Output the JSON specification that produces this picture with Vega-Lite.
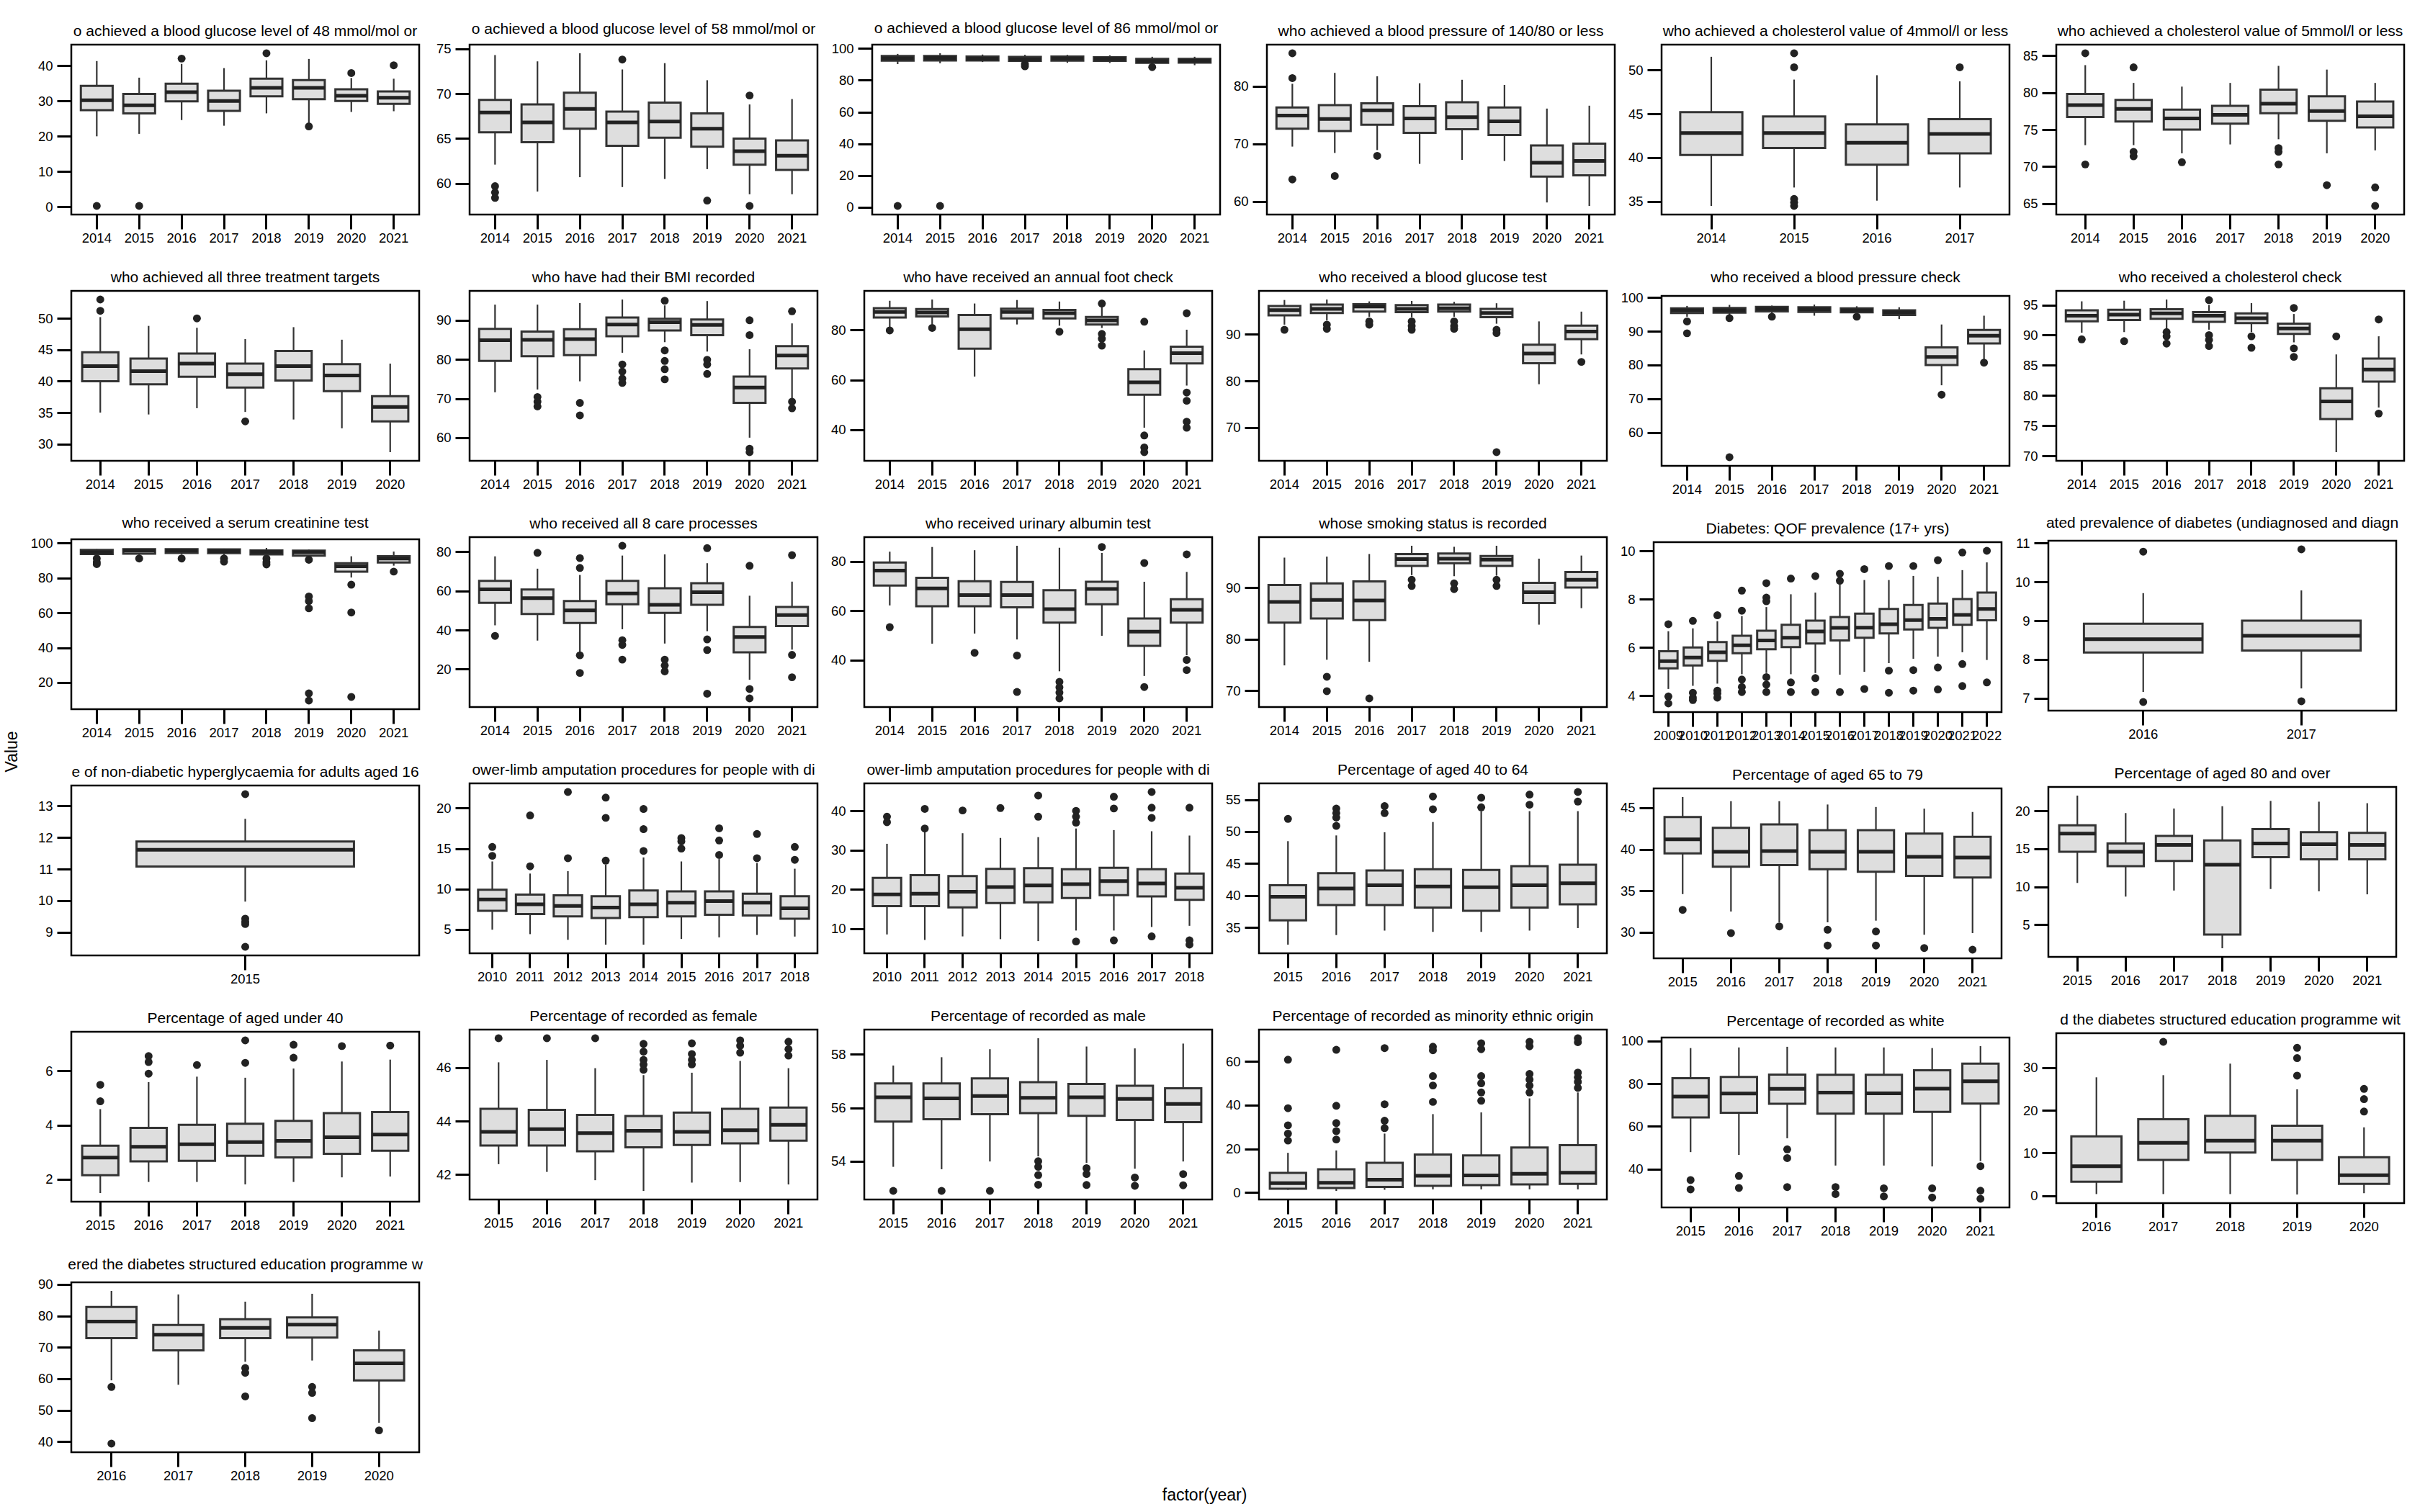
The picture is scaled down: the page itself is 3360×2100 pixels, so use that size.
{
"$schema": "https://vega.github.io/schema/vega-lite/v6.json",
"background": "white",
"padding": {"left": 5, "top": 28, "right": 5, "bottom": 5},
"title": {"text": "factor(year)", "orient": "bottom", "anchor": "middle", "fontSize": 23, "font": "Liberation Sans", "fontWeight": "normal", "color": "#000", "offset": 6},
"vconcat": [{
"title": {"text": "Value", "orient": "left", "anchor": "middle", "fontSize": 23, "font": "Liberation Sans", "fontWeight": "normal", "color": "#000", "offset": 12},
"data": {"values": [
{"i":1,"yr":"2014","lo":20,"q1":27.4,"md":30.2,"q3":34.3,"hi":41.3},{"i":1,"yr":"2014","o":0.3},
{"i":1,"yr":"2015","lo":20.7,"q1":26.5,"md":28.8,"q3":32,"hi":36.6},{"i":1,"yr":"2015","o":0.3},
{"i":1,"yr":"2016","lo":24.6,"q1":29.9,"md":32.5,"q3":34.9,"hi":40.5},{"i":1,"yr":"2016","o":42},
{"i":1,"yr":"2017","lo":23,"q1":27.2,"md":30,"q3":32.9,"hi":39.3},
{"i":1,"yr":"2018","lo":26.5,"q1":31.3,"md":33.7,"q3":36.3,"hi":41.5},{"i":1,"yr":"2018","o":43.5},
{"i":1,"yr":"2019","lo":23.8,"q1":30.5,"md":33.7,"q3":35.9,"hi":41.9},{"i":1,"yr":"2019","o":22.8},
{"i":1,"yr":"2020","lo":26.9,"q1":30,"md":31.5,"q3":33.3,"hi":36.5},{"i":1,"yr":"2020","o":37.9},
{"i":1,"yr":"2021","lo":27.1,"q1":29.2,"md":30.9,"q3":32.7,"hi":36.3},{"i":1,"yr":"2021","o":40.1},
{"i":2,"yr":"2014","lo":62.1,"q1":65.7,"md":67.9,"q3":69.3,"hi":74.3},{"i":2,"yr":"2014","o":59.7},{"i":2,"yr":"2014","o":59.0},{"i":2,"yr":"2014","o":58.4},
{"i":2,"yr":"2015","lo":59.1,"q1":64.6,"md":66.8,"q3":68.8,"hi":73.6},
{"i":2,"yr":"2016","lo":60.7,"q1":66.1,"md":68.3,"q3":70.1,"hi":74.5},
{"i":2,"yr":"2017","lo":59.6,"q1":64.2,"md":66.8,"q3":68.0,"hi":72.7},{"i":2,"yr":"2017","o":73.8},
{"i":2,"yr":"2018","lo":60.5,"q1":65.1,"md":66.9,"q3":69.0,"hi":73.4},
{"i":2,"yr":"2019","lo":61.6,"q1":64.1,"md":66.1,"q3":67.8,"hi":71.5},{"i":2,"yr":"2019","o":58.1},
{"i":2,"yr":"2020","lo":58.8,"q1":62.1,"md":63.6,"q3":65.0,"hi":68.8},{"i":2,"yr":"2020","o":69.8},{"i":2,"yr":"2020","o":57.5},
{"i":2,"yr":"2021","lo":58.8,"q1":61.5,"md":63.1,"q3":64.8,"hi":69.4},
{"i":3,"yr":"2014","lo":90.2,"q1":92.3,"md":93.8,"q3":95.3,"hi":96.6},{"i":3,"yr":"2014","o":0.8},
{"i":3,"yr":"2015","lo":90.7,"q1":92.5,"md":94,"q3":95.3,"hi":97},{"i":3,"yr":"2015","o":0.8},
{"i":3,"yr":"2016","lo":91.5,"q1":92.5,"md":93.7,"q3":95,"hi":96.2},
{"i":3,"yr":"2017","lo":91,"q1":92.2,"md":93.2,"q3":94.7,"hi":96},{"i":3,"yr":"2017","o":90.2},{"i":3,"yr":"2017","o":88.8},
{"i":3,"yr":"2018","lo":91,"q1":92.3,"md":93.8,"q3":95,"hi":96},
{"i":3,"yr":"2019","lo":90.9,"q1":92.2,"md":93.5,"q3":94.5,"hi":95.7},
{"i":3,"yr":"2020","lo":89.8,"q1":91,"md":92,"q3":93.5,"hi":94.8},{"i":3,"yr":"2020","o":88.3},
{"i":3,"yr":"2021","lo":89.5,"q1":91.1,"md":92.3,"q3":93.5,"hi":94.8},
{"i":4,"yr":"2014","lo":69.5,"q1":72.6,"md":74.9,"q3":76.3,"hi":80.4},{"i":4,"yr":"2014","o":85.7},{"i":4,"yr":"2014","o":81.4},{"i":4,"yr":"2014","o":63.8},
{"i":4,"yr":"2015","lo":68.4,"q1":72.2,"md":74.3,"q3":76.7,"hi":82.3},{"i":4,"yr":"2015","o":64.4},
{"i":4,"yr":"2016","lo":68.9,"q1":73.3,"md":75.8,"q3":77,"hi":81.7},{"i":4,"yr":"2016","o":67.9},
{"i":4,"yr":"2017","lo":66.5,"q1":71.9,"md":74.4,"q3":76.5,"hi":80.5},
{"i":4,"yr":"2018","lo":67.2,"q1":72.5,"md":74.6,"q3":77.2,"hi":81.1},
{"i":4,"yr":"2019","lo":67,"q1":71.5,"md":73.9,"q3":76.3,"hi":80.2},
{"i":4,"yr":"2020","lo":59.8,"q1":64.3,"md":66.7,"q3":69.7,"hi":76.1},
{"i":4,"yr":"2021","lo":59.2,"q1":64.5,"md":67,"q3":70,"hi":76.6},
{"i":5,"yr":"2014","lo":34.5,"q1":40.3,"md":42.8,"q3":45.2,"hi":51.5},
{"i":5,"yr":"2015","lo":36.6,"q1":41.1,"md":42.8,"q3":44.7,"hi":48.9},{"i":5,"yr":"2015","o":51.9},{"i":5,"yr":"2015","o":50.3},{"i":5,"yr":"2015","o":35.3},{"i":5,"yr":"2015","o":34.9},{"i":5,"yr":"2015","o":34.5},
{"i":5,"yr":"2016","lo":35.1,"q1":39.2,"md":41.7,"q3":43.8,"hi":49.4},
{"i":5,"yr":"2017","lo":36.6,"q1":40.5,"md":42.7,"q3":44.4,"hi":48.7},{"i":5,"yr":"2017","o":50.3},
{"i":6,"yr":"2014","lo":72.9,"q1":76.7,"md":78.3,"q3":79.8,"hi":83.7},{"i":6,"yr":"2014","o":85.3},{"i":6,"yr":"2014","o":70.3},
{"i":6,"yr":"2015","lo":72.9,"q1":76.1,"md":77.8,"q3":79,"hi":81.3},{"i":6,"yr":"2015","o":83.4},{"i":6,"yr":"2015","o":72},{"i":6,"yr":"2015","o":71.4},
{"i":6,"yr":"2016","lo":71.8,"q1":75,"md":76.5,"q3":77.7,"hi":80.8},{"i":6,"yr":"2016","o":70.6},
{"i":6,"yr":"2017","lo":73,"q1":75.8,"md":77,"q3":78.2,"hi":81.3},
{"i":6,"yr":"2018","lo":73.7,"q1":77.2,"md":78.5,"q3":80.4,"hi":83.6},{"i":6,"yr":"2018","o":72.5},{"i":6,"yr":"2018","o":72},{"i":6,"yr":"2018","o":70.3},
{"i":6,"yr":"2019","lo":71.8,"q1":76.2,"md":77.5,"q3":79.5,"hi":83.1},{"i":6,"yr":"2019","o":67.5},
{"i":6,"yr":"2020","lo":72.2,"q1":75.3,"md":76.8,"q3":78.8,"hi":81.3},{"i":6,"yr":"2020","o":67.2},{"i":6,"yr":"2020","o":64.7},
{"i":7,"yr":"2014","lo":35,"q1":40,"md":42.4,"q3":44.6,"hi":50.2},{"i":7,"yr":"2014","o":53},{"i":7,"yr":"2014","o":51.2},
{"i":7,"yr":"2015","lo":34.7,"q1":39.5,"md":41.6,"q3":43.6,"hi":48.8},
{"i":7,"yr":"2016","lo":35.7,"q1":40.7,"md":42.8,"q3":44.4,"hi":48.5},{"i":7,"yr":"2016","o":50},
{"i":7,"yr":"2017","lo":35.1,"q1":39,"md":41.1,"q3":42.8,"hi":46.7},{"i":7,"yr":"2017","o":33.6},
{"i":7,"yr":"2018","lo":33.9,"q1":40.1,"md":42.4,"q3":44.8,"hi":48.6},
{"i":7,"yr":"2019","lo":32.5,"q1":38.4,"md":40.9,"q3":42.7,"hi":46.6},
{"i":7,"yr":"2020","lo":28.7,"q1":33.6,"md":35.9,"q3":37.6,"hi":42.8},
{"i":8,"yr":"2014","lo":71.6,"q1":79.6,"md":84.9,"q3":87.8,"hi":94},
{"i":8,"yr":"2015","lo":72.3,"q1":80.8,"md":85,"q3":87.1,"hi":94},{"i":8,"yr":"2015","o":70.4},{"i":8,"yr":"2015","o":69.2},{"i":8,"yr":"2015","o":68},
{"i":8,"yr":"2016","lo":74.4,"q1":81.1,"md":85.2,"q3":87.7,"hi":94.4},{"i":8,"yr":"2016","o":68.9},{"i":8,"yr":"2016","o":65.7},
{"i":8,"yr":"2017","lo":81.7,"q1":85.9,"md":88.9,"q3":90.7,"hi":95.3},{"i":8,"yr":"2017","o":78.7},{"i":8,"yr":"2017","o":76.9},{"i":8,"yr":"2017","o":75.1},{"i":8,"yr":"2017","o":74},
{"i":8,"yr":"2018","lo":84.4,"q1":87.4,"md":89.5,"q3":90.4,"hi":93.8},{"i":8,"yr":"2018","o":95},{"i":8,"yr":"2018","o":82.3},{"i":8,"yr":"2018","o":79.6},{"i":8,"yr":"2018","o":77.5},{"i":8,"yr":"2018","o":74.9},
{"i":8,"yr":"2019","lo":82,"q1":86.2,"md":88.8,"q3":90.2,"hi":94.9},{"i":8,"yr":"2019","o":79.9},{"i":8,"yr":"2019","o":78.7},{"i":8,"yr":"2019","o":76.3},
{"i":8,"yr":"2020","lo":60,"q1":68.9,"md":72.8,"q3":75.6,"hi":82.6},{"i":8,"yr":"2020","o":90},{"i":8,"yr":"2020","o":86.2},{"i":8,"yr":"2020","o":57.2},{"i":8,"yr":"2020","o":56.3},
{"i":8,"yr":"2021","lo":69.8,"q1":77.7,"md":81,"q3":83.4,"hi":89.2},{"i":8,"yr":"2021","o":92.3},{"i":8,"yr":"2021","o":69.2},{"i":8,"yr":"2021","o":67.5},
{"i":9,"yr":"2014","lo":80.8,"q1":85,"md":87.2,"q3":88.7,"hi":91.7},{"i":9,"yr":"2014","o":79.8},
{"i":9,"yr":"2015","lo":82.2,"q1":85.4,"md":87,"q3":88.4,"hi":92.2},{"i":9,"yr":"2015","o":80.8},
{"i":9,"yr":"2016","lo":61.3,"q1":72.5,"md":80.3,"q3":86,"hi":90.6},
{"i":9,"yr":"2017","lo":82.2,"q1":84.6,"md":87.2,"q3":88.5,"hi":92},
{"i":9,"yr":"2018","lo":81.7,"q1":84.6,"md":86.7,"q3":88,"hi":91.4},{"i":9,"yr":"2018","o":79.3},
{"i":9,"yr":"2019","lo":80.8,"q1":82.2,"md":83.8,"q3":85.2,"hi":89.7},{"i":9,"yr":"2019","o":90.6},{"i":9,"yr":"2019","o":78.4},{"i":9,"yr":"2019","o":76.5},{"i":9,"yr":"2019","o":73.7},
{"i":9,"yr":"2020","lo":40.8,"q1":54,"md":59,"q3":64.3,"hi":71.8},{"i":9,"yr":"2020","o":83.3},{"i":9,"yr":"2020","o":37.7},{"i":9,"yr":"2020","o":32.9},{"i":9,"yr":"2020","o":31},
{"i":9,"yr":"2021","lo":57.7,"q1":66.6,"md":70.7,"q3":73.3,"hi":80.1},{"i":9,"yr":"2021","o":86.7},{"i":9,"yr":"2021","o":54.9},{"i":9,"yr":"2021","o":51.6},{"i":9,"yr":"2021","o":43.2},{"i":9,"yr":"2021","o":40.8},
{"i":10,"yr":"2014","lo":92.1,"q1":94.1,"md":95.2,"q3":96.1,"hi":97.4},{"i":10,"yr":"2014","o":91},
{"i":10,"yr":"2015","lo":93,"q1":94.6,"md":95.5,"q3":96.4,"hi":97.5},{"i":10,"yr":"2015","o":92.1},{"i":10,"yr":"2015","o":91.2},
{"i":10,"yr":"2016","lo":93.8,"q1":94.9,"md":96,"q3":96.5,"hi":97.1},{"i":10,"yr":"2016","o":92.8},{"i":10,"yr":"2016","o":92.1},
{"i":10,"yr":"2017","lo":93.7,"q1":94.8,"md":95.5,"q3":96.3,"hi":97.2},{"i":10,"yr":"2017","o":92.8},{"i":10,"yr":"2017","o":91.8},{"i":10,"yr":"2017","o":91},
{"i":10,"yr":"2018","lo":93.8,"q1":94.9,"md":95.6,"q3":96.4,"hi":97},{"i":10,"yr":"2018","o":92.8},{"i":10,"yr":"2018","o":91.8},{"i":10,"yr":"2018","o":91.2},
{"i":10,"yr":"2019","lo":92.3,"q1":93.7,"md":94.6,"q3":95.5,"hi":96.7},{"i":10,"yr":"2019","o":91},{"i":10,"yr":"2019","o":90.3},{"i":10,"yr":"2019","o":64.7},
{"i":10,"yr":"2020","lo":79.3,"q1":83.8,"md":85.9,"q3":87.8,"hi":92.8},
{"i":10,"yr":"2021","lo":85.7,"q1":89,"md":90.6,"q3":91.9,"hi":94.9},{"i":10,"yr":"2021","o":84.1},
{"i":11,"yr":"2014","lo":94.3,"q1":95.4,"md":96.2,"q3":96.8,"hi":97.5},{"i":11,"yr":"2014","o":92.9},{"i":11,"yr":"2014","o":89.4},
{"i":11,"yr":"2015","lo":94.6,"q1":95.5,"md":96.2,"q3":96.9,"hi":97.8},{"i":11,"yr":"2015","o":93.9},{"i":11,"yr":"2015","o":52.7},
{"i":11,"yr":"2016","lo":95.2,"q1":95.9,"md":96.6,"q3":97.2,"hi":97.6},{"i":11,"yr":"2016","o":94.3},
{"i":11,"yr":"2017","lo":94.6,"q1":95.7,"md":96.5,"q3":97.1,"hi":97.9},
{"i":11,"yr":"2018","lo":95,"q1":95.6,"md":96.2,"q3":96.8,"hi":97.4},{"i":11,"yr":"2018","o":94.3},
{"i":11,"yr":"2019","lo":93.6,"q1":94.8,"md":95.6,"q3":96.2,"hi":97.1},
{"i":11,"yr":"2020","lo":74,"q1":80,"md":82.4,"q3":85.2,"hi":92},{"i":11,"yr":"2020","o":71.2},
{"i":11,"yr":"2021","lo":81.7,"q1":86.4,"md":88.7,"q3":90.4,"hi":94.6},{"i":11,"yr":"2021","o":80.7},
{"i":12,"yr":"2014","lo":90.4,"q1":92.3,"md":93.2,"q3":94.1,"hi":95.6},{"i":12,"yr":"2014","o":89.3},
{"i":12,"yr":"2015","lo":90.5,"q1":92.5,"md":93.4,"q3":94.2,"hi":95.7},{"i":12,"yr":"2015","o":89},
{"i":12,"yr":"2016","lo":91.1,"q1":92.7,"md":93.6,"q3":94.3,"hi":95.9},{"i":12,"yr":"2016","o":90.5},{"i":12,"yr":"2016","o":89.8},{"i":12,"yr":"2016","o":88.6},
{"i":12,"yr":"2017","lo":90.9,"q1":92.2,"md":93.2,"q3":93.8,"hi":95},{"i":12,"yr":"2017","o":95.8},{"i":12,"yr":"2017","o":90},{"i":12,"yr":"2017","o":89.2},{"i":12,"yr":"2017","o":88.2},
{"i":12,"yr":"2018","lo":90.5,"q1":92,"md":92.8,"q3":93.6,"hi":95.3},{"i":12,"yr":"2018","o":89.8},{"i":12,"yr":"2018","o":87.9},
{"i":12,"yr":"2019","lo":88.8,"q1":90.2,"md":91.1,"q3":91.9,"hi":93.5},{"i":12,"yr":"2019","o":94.5},{"i":12,"yr":"2019","o":87.8},{"i":12,"yr":"2019","o":86.4},
{"i":12,"yr":"2020","lo":70.6,"q1":76.1,"md":79,"q3":81.2,"hi":86.8},{"i":12,"yr":"2020","o":89.8},
{"i":12,"yr":"2021","lo":78,"q1":82.3,"md":84.3,"q3":86.1,"hi":89.8},{"i":12,"yr":"2021","o":92.6},{"i":12,"yr":"2021","o":77},
{"i":13,"yr":"2014","lo":92.9,"q1":93.8,"md":94.8,"q3":96.2,"hi":96.6},{"i":13,"yr":"2014","o":91.2},{"i":13,"yr":"2014","o":89.1},{"i":13,"yr":"2014","o":88},
{"i":13,"yr":"2015","lo":93.2,"q1":94,"md":95.7,"q3":96.6,"hi":96.9},{"i":13,"yr":"2015","o":91.2},
{"i":13,"yr":"2016","lo":93.5,"q1":94.4,"md":95.7,"q3":96.6,"hi":96.9},{"i":13,"yr":"2016","o":91.2},
{"i":13,"yr":"2017","lo":93.2,"q1":94.3,"md":95.4,"q3":96.5,"hi":96.9},{"i":13,"yr":"2017","o":91.2},{"i":13,"yr":"2017","o":89.4},
{"i":13,"yr":"2018","lo":92.5,"q1":93.6,"md":95,"q3":95.9,"hi":97.3},{"i":13,"yr":"2018","o":91.2},{"i":13,"yr":"2018","o":89.1},{"i":13,"yr":"2018","o":87.8},
{"i":13,"yr":"2019","lo":91.8,"q1":92.9,"md":94.8,"q3":95.7,"hi":96.3},{"i":13,"yr":"2019","o":90.5},{"i":13,"yr":"2019","o":69.4},{"i":13,"yr":"2019","o":66.7},{"i":13,"yr":"2019","o":62.6},{"i":13,"yr":"2019","o":13.7},{"i":13,"yr":"2019","o":9.6},
{"i":13,"yr":"2020","lo":80.3,"q1":83.7,"md":86.7,"q3":88.5,"hi":92.5},{"i":13,"yr":"2020","o":76.2},{"i":13,"yr":"2020","o":60.2},{"i":13,"yr":"2020","o":11.7},
{"i":13,"yr":"2021","lo":87.1,"q1":88.9,"md":91.2,"q3":92.5,"hi":95.2},{"i":13,"yr":"2021","o":83.7},
{"i":14,"yr":"2014","lo":42.4,"q1":53.9,"md":60.8,"q3":65.1,"hi":77.6},{"i":14,"yr":"2014","o":37},
{"i":14,"yr":"2015","lo":34.6,"q1":48.2,"md":56.3,"q3":60.7,"hi":71.3},{"i":14,"yr":"2015","o":79.4},
{"i":14,"yr":"2016","lo":28.3,"q1":43.6,"md":50,"q3":54.8,"hi":68.1},{"i":14,"yr":"2016","o":76.7},{"i":14,"yr":"2016","o":71.7},{"i":14,"yr":"2016","o":27.1},{"i":14,"yr":"2016","o":18.1},
{"i":14,"yr":"2017","lo":40.4,"q1":53.1,"md":58.7,"q3":65.1,"hi":78},{"i":14,"yr":"2017","o":83},{"i":14,"yr":"2017","o":34.8},{"i":14,"yr":"2017","o":32.4},{"i":14,"yr":"2017","o":24.9},
{"i":14,"yr":"2018","lo":33.1,"q1":48.7,"md":52.9,"q3":61.3,"hi":78.6},{"i":14,"yr":"2018","o":24.9},{"i":14,"yr":"2018","o":21.9},{"i":14,"yr":"2018","o":18.9},
{"i":14,"yr":"2019","lo":39.4,"q1":52.9,"md":59.3,"q3":63.9,"hi":74.1},{"i":14,"yr":"2019","o":81.8},{"i":14,"yr":"2019","o":35.2},{"i":14,"yr":"2019","o":29.8},{"i":14,"yr":"2019","o":7.5},
{"i":14,"yr":"2020","lo":14.6,"q1":28.6,"md":36.4,"q3":41.6,"hi":57.5},{"i":14,"yr":"2020","o":72.8},{"i":14,"yr":"2020","o":9.9},{"i":14,"yr":"2020","o":5.1},
{"i":14,"yr":"2021","lo":30,"q1":42,"md":47.6,"q3":51.8,"hi":64.7},{"i":14,"yr":"2021","o":78.2},{"i":14,"yr":"2021","o":27.3},{"i":14,"yr":"2021","o":15.9},
{"i":15,"yr":"2014","lo":62.1,"q1":70.2,"md":76.2,"q3":79.5,"hi":83.9},{"i":15,"yr":"2014","o":53.3},
{"i":15,"yr":"2015","lo":46.6,"q1":61.8,"md":69,"q3":73.3,"hi":85.8},
{"i":15,"yr":"2016","lo":50.7,"q1":61.8,"md":66.3,"q3":71.9,"hi":84.5},{"i":15,"yr":"2016","o":42.9},
{"i":15,"yr":"2017","lo":48.3,"q1":61.3,"md":66.3,"q3":71.6,"hi":86.3},{"i":15,"yr":"2017","o":41.8},{"i":15,"yr":"2017","o":27},
{"i":15,"yr":"2018","lo":35.4,"q1":55.1,"md":60.6,"q3":68.3,"hi":85.5},{"i":15,"yr":"2018","o":31.1},{"i":15,"yr":"2018","o":28.9},{"i":15,"yr":"2018","o":26.8},{"i":15,"yr":"2018","o":24.4},
{"i":15,"yr":"2019","lo":49.8,"q1":62.6,"md":68.8,"q3":71.7,"hi":83.4},{"i":15,"yr":"2019","o":85.8},
{"i":15,"yr":"2020","lo":33.5,"q1":45.7,"md":51.5,"q3":56.8,"hi":71.7},{"i":15,"yr":"2020","o":79.3},{"i":15,"yr":"2020","o":29},
{"i":15,"yr":"2021","lo":41.9,"q1":55.1,"md":60.3,"q3":64.6,"hi":75.7},{"i":15,"yr":"2021","o":82.8},{"i":15,"yr":"2021","o":40},{"i":15,"yr":"2021","o":35.9},
{"i":16,"yr":"2014","lo":74.9,"q1":83.2,"md":87.2,"q3":90.5,"hi":95.8},
{"i":16,"yr":"2015","lo":76,"q1":84,"md":87.6,"q3":90.8,"hi":96},{"i":16,"yr":"2015","o":72.7},{"i":16,"yr":"2015","o":69.9},
{"i":16,"yr":"2016","lo":75.6,"q1":83.7,"md":87.5,"q3":91.2,"hi":96.5},{"i":16,"yr":"2016","o":68.5},
{"i":16,"yr":"2017","lo":92.4,"q1":94.2,"md":95.5,"q3":96.5,"hi":98.1},{"i":16,"yr":"2017","o":91.5},{"i":16,"yr":"2017","o":90.3},
{"i":16,"yr":"2018","lo":92.2,"q1":94.7,"md":95.6,"q3":96.6,"hi":97.9},{"i":16,"yr":"2018","o":90.8},{"i":16,"yr":"2018","o":89.7},
{"i":16,"yr":"2019","lo":92.3,"q1":94.2,"md":95.4,"q3":96.1,"hi":98.1},{"i":16,"yr":"2019","o":91.5},{"i":16,"yr":"2019","o":90.3},
{"i":16,"yr":"2020","lo":82.8,"q1":87,"md":89.1,"q3":90.9,"hi":95.6},
{"i":16,"yr":"2021","lo":86,"q1":90,"md":91.5,"q3":93,"hi":96.2},
{"i":17,"yr":"2009","lo":4.28,"q1":5.13,"md":5.43,"q3":5.84,"hi":6.67},{"i":17,"yr":"2009","o":6.96},{"i":17,"yr":"2009","o":3.97},{"i":17,"yr":"2009","o":3.68},
{"i":17,"yr":"2010","lo":4.41,"q1":5.25,"md":5.58,"q3":6.0,"hi":6.79},{"i":17,"yr":"2010","o":7.1},{"i":17,"yr":"2010","o":4.12},{"i":17,"yr":"2010","o":3.92},{"i":17,"yr":"2010","o":3.82},
{"i":17,"yr":"2011","lo":4.5,"q1":5.45,"md":5.8,"q3":6.22,"hi":7.08},{"i":17,"yr":"2011","o":7.33},{"i":17,"yr":"2011","o":4.21},{"i":17,"yr":"2011","o":4.09},{"i":17,"yr":"2011","o":3.92},
{"i":17,"yr":"2012","lo":4.89,"q1":5.76,"md":6.09,"q3":6.48,"hi":7.3},{"i":17,"yr":"2012","o":8.35},{"i":17,"yr":"2012","o":7.52},{"i":17,"yr":"2012","o":4.67},{"i":17,"yr":"2012","o":4.36},{"i":17,"yr":"2012","o":4.15},
{"i":17,"yr":"2013","lo":4.94,"q1":5.92,"md":6.29,"q3":6.69,"hi":7.67},{"i":17,"yr":"2013","o":8.66},{"i":17,"yr":"2013","o":8.06},{"i":17,"yr":"2013","o":7.91},{"i":17,"yr":"2013","o":4.77},{"i":17,"yr":"2013","o":4.46},{"i":17,"yr":"2013","o":4.15},
{"i":17,"yr":"2014","lo":4.89,"q1":6.01,"md":6.4,"q3":6.94,"hi":8.2},{"i":17,"yr":"2014","o":8.85},{"i":17,"yr":"2014","o":4.55},{"i":17,"yr":"2014","o":4.15},
{"i":17,"yr":"2015","lo":4.94,"q1":6.16,"md":6.66,"q3":7.11,"hi":8.27},{"i":17,"yr":"2015","o":8.95},{"i":17,"yr":"2015","o":4.73},{"i":17,"yr":"2015","o":4.15},
{"i":17,"yr":"2016","lo":4.87,"q1":6.29,"md":6.81,"q3":7.26,"hi":8.62},{"i":17,"yr":"2016","o":9.05},{"i":17,"yr":"2016","o":8.76},{"i":17,"yr":"2016","o":4.15},
{"i":17,"yr":"2017","lo":4.99,"q1":6.4,"md":6.82,"q3":7.4,"hi":8.79},{"i":17,"yr":"2017","o":9.24},{"i":17,"yr":"2017","o":4.28},
{"i":17,"yr":"2018","lo":5.35,"q1":6.58,"md":6.96,"q3":7.59,"hi":8.79},{"i":17,"yr":"2018","o":9.37},{"i":17,"yr":"2018","o":5.04},{"i":17,"yr":"2018","o":4.12},
{"i":17,"yr":"2019","lo":5.53,"q1":6.74,"md":7.13,"q3":7.76,"hi":8.96},{"i":17,"yr":"2019","o":9.37},{"i":17,"yr":"2019","o":5.06},{"i":17,"yr":"2019","o":4.21},
{"i":17,"yr":"2020","lo":5.62,"q1":6.81,"md":7.18,"q3":7.82,"hi":8.93},{"i":17,"yr":"2020","o":9.61},{"i":17,"yr":"2020","o":5.17},{"i":17,"yr":"2020","o":4.26},
{"i":17,"yr":"2021","lo":5.8,"q1":6.94,"md":7.35,"q3":8.0,"hi":9.2},{"i":17,"yr":"2021","o":9.93},{"i":17,"yr":"2021","o":5.31},{"i":17,"yr":"2021","o":4.4},
{"i":17,"yr":"2022","lo":5.48,"q1":7.12,"md":7.59,"q3":8.27,"hi":9.52},{"i":17,"yr":"2022","o":10.0},{"i":17,"yr":"2022","o":4.55},
{"i":18,"yr":"2016","lo":7.16,"q1":8.18,"md":8.52,"q3":8.92,"hi":9.71},{"i":18,"yr":"2016","o":10.78},{"i":18,"yr":"2016","o":6.9},
{"i":18,"yr":"2017","lo":7.25,"q1":8.23,"md":8.61,"q3":9.0,"hi":9.78},{"i":18,"yr":"2017","o":10.84},{"i":18,"yr":"2017","o":6.92},
{"i":19,"yr":"2015","lo":9.97,"q1":11.08,"md":11.61,"q3":11.87,"hi":12.59},{"i":19,"yr":"2015","o":13.37},{"i":19,"yr":"2015","o":9.43},{"i":19,"yr":"2015","o":9.33},{"i":19,"yr":"2015","o":9.26},{"i":19,"yr":"2015","o":8.54},
{"i":20,"yr":"2010","lo":4.95,"q1":7.3,"md":8.7,"q3":9.9,"hi":13.4},{"i":20,"yr":"2010","o":15.2},{"i":20,"yr":"2010","o":14.1},
{"i":20,"yr":"2011","lo":4.4,"q1":6.9,"md":8.1,"q3":9.3,"hi":11.9},{"i":20,"yr":"2011","o":19.1},{"i":20,"yr":"2011","o":12.8},
{"i":20,"yr":"2012","lo":3.7,"q1":6.6,"md":7.9,"q3":9.2,"hi":12.2},{"i":20,"yr":"2012","o":22},{"i":20,"yr":"2012","o":13.8},
{"i":20,"yr":"2013","lo":3.1,"q1":6.4,"md":7.7,"q3":9.1,"hi":13},{"i":20,"yr":"2013","o":21.3},{"i":20,"yr":"2013","o":18.8},{"i":20,"yr":"2013","o":13.5},
{"i":20,"yr":"2014","lo":3.1,"q1":6.5,"md":8.1,"q3":9.8,"hi":13.9},{"i":20,"yr":"2014","o":19.9},{"i":20,"yr":"2014","o":17.4},{"i":20,"yr":"2014","o":14.7},
{"i":20,"yr":"2015","lo":3.8,"q1":6.6,"md":8.3,"q3":9.7,"hi":13.4},{"i":20,"yr":"2015","o":16.3},{"i":20,"yr":"2015","o":15.9},{"i":20,"yr":"2015","o":15},
{"i":20,"yr":"2016","lo":4,"q1":6.8,"md":8.5,"q3":9.7,"hi":13.7},{"i":20,"yr":"2016","o":17.5},{"i":20,"yr":"2016","o":16},{"i":20,"yr":"2016","o":14.2},
{"i":20,"yr":"2017","lo":4.3,"q1":6.7,"md":8.3,"q3":9.4,"hi":13.2},{"i":20,"yr":"2017","o":16.8},{"i":20,"yr":"2017","o":13.8},
{"i":20,"yr":"2018","lo":4.1,"q1":6.3,"md":7.6,"q3":9.1,"hi":12.5},{"i":20,"yr":"2018","o":15.2},{"i":20,"yr":"2018","o":13.6},
{"i":21,"yr":"2010","lo":8.5,"q1":15.7,"md":18.7,"q3":22.9,"hi":31.6},{"i":21,"yr":"2010","o":38.5},{"i":21,"yr":"2010","o":37.1},
{"i":21,"yr":"2011","lo":7.1,"q1":15.7,"md":18.9,"q3":23.6,"hi":34.6},{"i":21,"yr":"2011","o":40.5},{"i":21,"yr":"2011","o":35.5},
{"i":21,"yr":"2012","lo":8,"q1":15.4,"md":19.4,"q3":23.4,"hi":34.3},{"i":21,"yr":"2012","o":40.1},
{"i":21,"yr":"2013","lo":7.3,"q1":16.5,"md":20.6,"q3":25.2,"hi":33.1},{"i":21,"yr":"2013","o":40.7},
{"i":21,"yr":"2014","lo":6.8,"q1":16.7,"md":21,"q3":25.4,"hi":33.3},{"i":21,"yr":"2014","o":43.9},{"i":21,"yr":"2014","o":38.5},
{"i":21,"yr":"2015","lo":9.5,"q1":17.8,"md":21.3,"q3":25.1,"hi":35.5},{"i":21,"yr":"2015","o":40},{"i":21,"yr":"2015","o":38.5},{"i":21,"yr":"2015","o":37},{"i":21,"yr":"2015","o":6.7},
{"i":21,"yr":"2016","lo":9.5,"q1":18.5,"md":22.1,"q3":25.5,"hi":35.1},{"i":21,"yr":"2016","o":43.6},{"i":21,"yr":"2016","o":40.6},{"i":21,"yr":"2016","o":7},
{"i":21,"yr":"2017","lo":10.4,"q1":18.2,"md":21.5,"q3":25.1,"hi":34.8},{"i":21,"yr":"2017","o":44.8},{"i":21,"yr":"2017","o":40.8},{"i":21,"yr":"2017","o":38.2},{"i":21,"yr":"2017","o":8},
{"i":21,"yr":"2018","lo":10.7,"q1":17.3,"md":20.4,"q3":24,"hi":33.7},{"i":21,"yr":"2018","o":40.8},{"i":21,"yr":"2018","o":7},{"i":21,"yr":"2018","o":5.9},
{"i":22,"yr":"2015","lo":32.3,"q1":36.1,"md":39.8,"q3":41.6,"hi":48.5},{"i":22,"yr":"2015","o":52},
{"i":22,"yr":"2016","lo":33.8,"q1":38.5,"md":41.1,"q3":43.5,"hi":49.4},{"i":22,"yr":"2016","o":53.6},{"i":22,"yr":"2016","o":52.9},{"i":22,"yr":"2016","o":52.2},{"i":22,"yr":"2016","o":50.9},
{"i":22,"yr":"2017","lo":34.5,"q1":38.5,"md":41.6,"q3":43.9,"hi":49.9},{"i":22,"yr":"2017","o":54},{"i":22,"yr":"2017","o":52.9},
{"i":22,"yr":"2018","lo":34.3,"q1":38.1,"md":41.4,"q3":44.1,"hi":51.5},{"i":22,"yr":"2018","o":55.5},{"i":22,"yr":"2018","o":53.5},
{"i":22,"yr":"2019","lo":34.3,"q1":37.6,"md":41.3,"q3":44,"hi":53.2},{"i":22,"yr":"2019","o":55.3},{"i":22,"yr":"2019","o":53.8},
{"i":22,"yr":"2020","lo":34.5,"q1":38.1,"md":41.6,"q3":44.6,"hi":53.2},{"i":22,"yr":"2020","o":55.8},{"i":22,"yr":"2020","o":54.2},
{"i":22,"yr":"2021","lo":34.9,"q1":38.6,"md":41.9,"q3":44.8,"hi":53.2},{"i":22,"yr":"2021","o":56.2},{"i":22,"yr":"2021","o":54.7},
{"i":23,"yr":"2015","lo":34.6,"q1":39.5,"md":41.2,"q3":43.9,"hi":46.3},{"i":23,"yr":"2015","o":32.7},
{"i":23,"yr":"2016","lo":32.5,"q1":37.9,"md":39.7,"q3":42.6,"hi":45.8},{"i":23,"yr":"2016","o":29.9},
{"i":23,"yr":"2017","lo":31.2,"q1":38.1,"md":39.8,"q3":43,"hi":45.8},{"i":23,"yr":"2017","o":30.7},
{"i":23,"yr":"2018","lo":31.2,"q1":37.6,"md":39.7,"q3":42.3,"hi":45.4},{"i":23,"yr":"2018","o":30.3},{"i":23,"yr":"2018","o":28.4},
{"i":23,"yr":"2019","lo":31.4,"q1":37.3,"md":39.7,"q3":42.3,"hi":45.1},{"i":23,"yr":"2019","o":30.1},{"i":23,"yr":"2019","o":28.4},
{"i":23,"yr":"2020","lo":29.7,"q1":36.8,"md":39.1,"q3":41.9,"hi":44.9},{"i":23,"yr":"2020","o":28.1},
{"i":23,"yr":"2021","lo":29.9,"q1":36.6,"md":39,"q3":41.5,"hi":44.5},{"i":23,"yr":"2021","o":27.9},
{"i":24,"yr":"2015","lo":10.5,"q1":14.6,"md":17,"q3":18.1,"hi":22},
{"i":24,"yr":"2016","lo":8.7,"q1":12.7,"md":14.6,"q3":15.7,"hi":19.7},
{"i":24,"yr":"2017","lo":9.5,"q1":13.4,"md":15.5,"q3":16.7,"hi":20.3},
{"i":24,"yr":"2018","lo":1.9,"q1":3.7,"md":12.9,"q3":16.1,"hi":20.6},
{"i":24,"yr":"2019","lo":9.7,"q1":13.9,"md":15.7,"q3":17.6,"hi":21.3},
{"i":24,"yr":"2020","lo":9.4,"q1":13.6,"md":15.6,"q3":17.2,"hi":21.2},
{"i":24,"yr":"2021","lo":9.0,"q1":13.6,"md":15.5,"q3":17.1,"hi":21},
{"i":25,"yr":"2015","lo":1.49,"q1":2.15,"md":2.8,"q3":3.24,"hi":4.59},{"i":25,"yr":"2015","o":5.49},{"i":25,"yr":"2015","o":4.88},
{"i":25,"yr":"2016","lo":1.9,"q1":2.66,"md":3.2,"q3":3.9,"hi":5.59},{"i":25,"yr":"2016","o":6.55},{"i":25,"yr":"2016","o":6.33},{"i":25,"yr":"2016","o":5.9},
{"i":25,"yr":"2017","lo":1.9,"q1":2.68,"md":3.29,"q3":4.01,"hi":5.79},{"i":25,"yr":"2017","o":6.22},
{"i":25,"yr":"2018","lo":1.81,"q1":2.87,"md":3.37,"q3":4.05,"hi":5.75},{"i":25,"yr":"2018","o":7.13},{"i":25,"yr":"2018","o":6.3},
{"i":25,"yr":"2019","lo":1.9,"q1":2.81,"md":3.42,"q3":4.16,"hi":6.09},{"i":25,"yr":"2019","o":6.97},{"i":25,"yr":"2019","o":6.49},
{"i":25,"yr":"2020","lo":2.07,"q1":2.94,"md":3.55,"q3":4.44,"hi":6.35},{"i":25,"yr":"2020","o":6.92},
{"i":25,"yr":"2021","lo":2.1,"q1":3.05,"md":3.65,"q3":4.48,"hi":6.42},{"i":25,"yr":"2021","o":6.94},
{"i":26,"yr":"2015","lo":42.39,"q1":43.09,"md":43.6,"q3":44.46,"hi":46.2},{"i":26,"yr":"2015","o":47.1},
{"i":26,"yr":"2016","lo":42.1,"q1":43.09,"md":43.7,"q3":44.42,"hi":46.29},{"i":26,"yr":"2016","o":47.1},
{"i":26,"yr":"2017","lo":41.79,"q1":42.87,"md":43.55,"q3":44.23,"hi":45.98},{"i":26,"yr":"2017","o":47.1},
{"i":26,"yr":"2018","lo":41.39,"q1":43.02,"md":43.64,"q3":44.19,"hi":45.72},{"i":26,"yr":"2018","o":46.89},{"i":26,"yr":"2018","o":46.6},{"i":26,"yr":"2018","o":46.29},{"i":26,"yr":"2018","o":46.12},{"i":26,"yr":"2018","o":45.92},
{"i":26,"yr":"2019","lo":41.7,"q1":43.11,"md":43.6,"q3":44.32,"hi":45.81},{"i":26,"yr":"2019","o":46.91},{"i":26,"yr":"2019","o":46.51},{"i":26,"yr":"2019","o":46.29},{"i":26,"yr":"2019","o":46.12},
{"i":26,"yr":"2020","lo":41.72,"q1":43.17,"md":43.66,"q3":44.46,"hi":46.25},{"i":26,"yr":"2020","o":47.02},{"i":26,"yr":"2020","o":46.82},{"i":26,"yr":"2020","o":46.56},
{"i":26,"yr":"2021","lo":41.63,"q1":43.27,"md":43.86,"q3":44.51,"hi":45.98},{"i":26,"yr":"2021","o":46.97},{"i":26,"yr":"2021","o":46.69},{"i":26,"yr":"2021","o":46.45},
{"i":27,"yr":"2015","lo":53.79,"q1":55.48,"md":56.39,"q3":56.91,"hi":57.58},{"i":27,"yr":"2015","o":52.89},
{"i":27,"yr":"2016","lo":53.7,"q1":55.57,"md":56.35,"q3":56.91,"hi":57.89},{"i":27,"yr":"2016","o":52.89},
{"i":27,"yr":"2017","lo":53.99,"q1":55.76,"md":56.44,"q3":57.1,"hi":58.19},{"i":27,"yr":"2017","o":52.89},
{"i":27,"yr":"2018","lo":54.18,"q1":55.8,"md":56.37,"q3":56.96,"hi":58.6},{"i":27,"yr":"2018","o":54.0},{"i":27,"yr":"2018","o":53.79},{"i":27,"yr":"2018","o":53.48},{"i":27,"yr":"2018","o":53.12},
{"i":27,"yr":"2019","lo":53.94,"q1":55.7,"md":56.39,"q3":56.89,"hi":58.29},{"i":27,"yr":"2019","o":53.74},{"i":27,"yr":"2019","o":53.52},{"i":27,"yr":"2019","o":53.11},
{"i":27,"yr":"2020","lo":53.72,"q1":55.54,"md":56.33,"q3":56.82,"hi":58.22},{"i":27,"yr":"2020","o":53.39},{"i":27,"yr":"2020","o":53.08},
{"i":27,"yr":"2021","lo":53.99,"q1":55.46,"md":56.14,"q3":56.73,"hi":58.4},{"i":27,"yr":"2021","o":53.52},{"i":27,"yr":"2021","o":53.1},
{"i":28,"yr":"2015","lo":1.3,"q1":1.8,"md":4.3,"q3":9,"hi":18.2},{"i":28,"yr":"2015","o":60.8},{"i":28,"yr":"2015","o":38.6},{"i":28,"yr":"2015","o":30.8},{"i":28,"yr":"2015","o":27},{"i":28,"yr":"2015","o":23.8},
{"i":28,"yr":"2016","lo":0.8,"q1":2.1,"md":4.5,"q3":10.7,"hi":19.3},{"i":28,"yr":"2016","o":65.3},{"i":28,"yr":"2016","o":39.7},{"i":28,"yr":"2016","o":31.8},{"i":28,"yr":"2016","o":28.1},{"i":28,"yr":"2016","o":24.3},
{"i":28,"yr":"2017","lo":1.3,"q1":2.6,"md":5.9,"q3":13.6,"hi":27},{"i":28,"yr":"2017","o":66.1},{"i":28,"yr":"2017","o":40.4},{"i":28,"yr":"2017","o":32.9},{"i":28,"yr":"2017","o":29.5},
{"i":28,"yr":"2018","lo":1.5,"q1":3.1,"md":7.7,"q3":17.4,"hi":35.9},{"i":28,"yr":"2018","o":66.7},{"i":28,"yr":"2018","o":65.1},{"i":28,"yr":"2018","o":53.3},{"i":28,"yr":"2018","o":49},{"i":28,"yr":"2018","o":41.5},
{"i":28,"yr":"2019","lo":1.5,"q1":3.4,"md":7.9,"q3":17,"hi":36.7},{"i":28,"yr":"2019","o":68.3},{"i":28,"yr":"2019","o":65.6},{"i":28,"yr":"2019","o":53.3},{"i":28,"yr":"2019","o":50},{"i":28,"yr":"2019","o":45.8},{"i":28,"yr":"2019","o":42},
{"i":28,"yr":"2020","lo":1.5,"q1":3.8,"md":8.6,"q3":20.6,"hi":43.1},{"i":28,"yr":"2020","o":69},{"i":28,"yr":"2020","o":66.9},{"i":28,"yr":"2020","o":54.3},{"i":28,"yr":"2020","o":51.7},{"i":28,"yr":"2020","o":49},{"i":28,"yr":"2020","o":45.8},
{"i":28,"yr":"2021","lo":1.5,"q1":4,"md":9.1,"q3":21.7,"hi":45.8},{"i":28,"yr":"2021","o":70.6},{"i":28,"yr":"2021","o":68.8},{"i":28,"yr":"2021","o":54.9},{"i":28,"yr":"2021","o":52.7},{"i":28,"yr":"2021","o":50.6},{"i":28,"yr":"2021","o":47.9},
{"i":29,"yr":"2015","lo":47.9,"q1":64.2,"md":74,"q3":82.6,"hi":96.7},{"i":29,"yr":"2015","o":34.8},{"i":29,"yr":"2015","o":30.4},
{"i":29,"yr":"2016","lo":46.6,"q1":66.4,"md":75.4,"q3":83.2,"hi":97},{"i":29,"yr":"2016","o":36.7},{"i":29,"yr":"2016","o":31.1},
{"i":29,"yr":"2017","lo":54.4,"q1":70.6,"md":77.6,"q3":84.3,"hi":97.3},{"i":29,"yr":"2017","o":49.2},{"i":29,"yr":"2017","o":45.1},{"i":29,"yr":"2017","o":31.5},
{"i":29,"yr":"2018","lo":41.6,"q1":65.9,"md":75.8,"q3":84.2,"hi":97},{"i":29,"yr":"2018","o":31.5},{"i":29,"yr":"2018","o":28.2},
{"i":29,"yr":"2019","lo":41.6,"q1":65.9,"md":75.5,"q3":84.2,"hi":97},{"i":29,"yr":"2019","o":30.9},{"i":29,"yr":"2019","o":27.1},
{"i":29,"yr":"2020","lo":41.2,"q1":66.8,"md":77.7,"q3":86.3,"hi":96.7},{"i":29,"yr":"2020","o":30.9},{"i":29,"yr":"2020","o":26.6},
{"i":29,"yr":"2021","lo":43.7,"q1":70.7,"md":81.1,"q3":89.4,"hi":97.6},{"i":29,"yr":"2021","o":41.3},{"i":29,"yr":"2021","o":29.8},{"i":29,"yr":"2021","o":26},
{"i":30,"yr":"2016","lo":0.4,"q1":3.3,"md":6.9,"q3":13.9,"hi":27.7},
{"i":30,"yr":"2017","lo":0.4,"q1":8.4,"md":12.4,"q3":17.9,"hi":28.2},{"i":30,"yr":"2017","o":36},
{"i":30,"yr":"2018","lo":0.4,"q1":10.1,"md":12.9,"q3":18.7,"hi":30.9},
{"i":30,"yr":"2019","lo":0.3,"q1":8.4,"md":12.9,"q3":16.4,"hi":24.9},{"i":30,"yr":"2019","o":34.6},{"i":30,"yr":"2019","o":32.2},{"i":30,"yr":"2019","o":28.1},
{"i":30,"yr":"2020","lo":0.6,"q1":2.8,"md":4.8,"q3":9,"hi":16},{"i":30,"yr":"2020","o":25},{"i":30,"yr":"2020","o":22.6},{"i":30,"yr":"2020","o":19.7},
{"i":31,"yr":"2016","lo":59.5,"q1":72.9,"md":78.2,"q3":82.8,"hi":87.9},{"i":31,"yr":"2016","o":57.4},{"i":31,"yr":"2016","o":39.4},
{"i":31,"yr":"2017","lo":58.1,"q1":69,"md":74,"q3":77.1,"hi":86.8},
{"i":31,"yr":"2018","lo":65.4,"q1":72.9,"md":76.2,"q3":78.9,"hi":84.5},{"i":31,"yr":"2018","o":63.4},{"i":31,"yr":"2018","o":61.9},{"i":31,"yr":"2018","o":54.4},
{"i":31,"yr":"2019","lo":65.8,"q1":73.1,"md":77.2,"q3":79.5,"hi":87},{"i":31,"yr":"2019","o":57.4},{"i":31,"yr":"2019","o":55.5},{"i":31,"yr":"2019","o":47.5},
{"i":31,"yr":"2020","lo":46,"q1":59.5,"md":64.9,"q3":69,"hi":75.3},{"i":31,"yr":"2020","o":43.6}
]},
"facet": {"field": "i", "type": "ordinal", "title": null, "header": {
  "labelExpr": "['o achieved a blood glucose level of 48 mmol/mol or','o achieved a blood glucose level of 58 mmol/mol or','o achieved a blood glucose level of 86 mmol/mol or','who achieved a blood pressure of 140/80 or less','who achieved a cholesterol value of 4mmol/l or less','who achieved a cholesterol value of 5mmol/l or less','who achieved all three treatment targets','who have had their BMI recorded','who have received an annual foot check','who received a blood glucose test','who received a blood pressure check','who received a cholesterol check','who received a serum creatinine test','who received all 8 care processes','who received urinary albumin test','whose smoking status is recorded','Diabetes: QOF prevalence (17+ yrs)','ated prevalence of diabetes (undiagnosed and diagn','e of non-diabetic hyperglycaemia for adults aged 16','ower-limb amputation procedures for people with di','ower-limb amputation procedures for people with di','Percentage of  aged 40 to 64','Percentage of  aged 65 to 79','Percentage of  aged 80 and over','Percentage of  aged under 40','Percentage of  recorded as female','Percentage of  recorded as male','Percentage of  recorded as minority ethnic origin','Percentage of  recorded as white','d the diabetes structured education programme wit','ered the diabetes structured education programme w'][+datum.value - 1]"
}},
"columns": 6,
"spacing": {"row": 32, "column": 15},
"resolve": {"scale": {"x": "independent", "y": "independent"}},
"spec": {
  "width": 483,
  "height": 236,
  "encoding": {"x": {"field": "yr", "type": "nominal", "title": null, "scale": {"paddingInner": 0, "paddingOuter": 0.1}}},
  "layer": [
    {"mark": {"type": "rule", "stroke": "#333333", "strokeWidth": 2.2},
     "encoding": {"y": {"field": "lo", "type": "quantitative", "title": null, "scale": {"zero": false, "nice": false, "padding": 12}}, "y2": {"field": "hi"}}},
    {"mark": {"type": "bar", "width": {"band": 0.75}, "fill": "#dedede", "stroke": "#333333", "strokeWidth": 3},
     "encoding": {"y": {"field": "q1", "type": "quantitative", "title": null, "scale": {"zero": false, "nice": false, "padding": 12}}, "y2": {"field": "q3"}}},
    {"mark": {"type": "bar", "width": {"band": 0.75}, "fill": "#222222", "stroke": "#222222", "strokeWidth": 5},
     "encoding": {"y": {"field": "md", "type": "quantitative", "title": null, "scale": {"zero": false, "nice": false, "padding": 12}}, "y2": {"field": "md"}}},
    {"mark": {"type": "point", "filled": true, "color": "#222222", "size": 120, "opacity": 1},
     "encoding": {"y": {"field": "o", "type": "quantitative", "title": null, "scale": {"zero": false, "nice": false, "padding": 12}}}}
  ]
}
}],
"config": {
  "font": "Liberation Sans",
  "view": {"stroke": "#000000", "strokeWidth": 2.5},
  "axis": {"grid": false, "domain": false, "ticks": true, "tickSize": 20, "tickWidth": 3, "tickColor": "#000000", "labelFontSize": 18.5, "labelColor": "#000000", "labelFont": "Liberation Sans"},
  "axisX": {"labelAngle": 0, "labelPadding": 3},
  "axisY": {"labelPadding": 6, "tickCount": 4},
  "header": {"labelFontSize": 21, "labelFont": "Liberation Sans", "labelColor": "#000000", "labelPadding": 8, "labelLimit": 540}
}
}
